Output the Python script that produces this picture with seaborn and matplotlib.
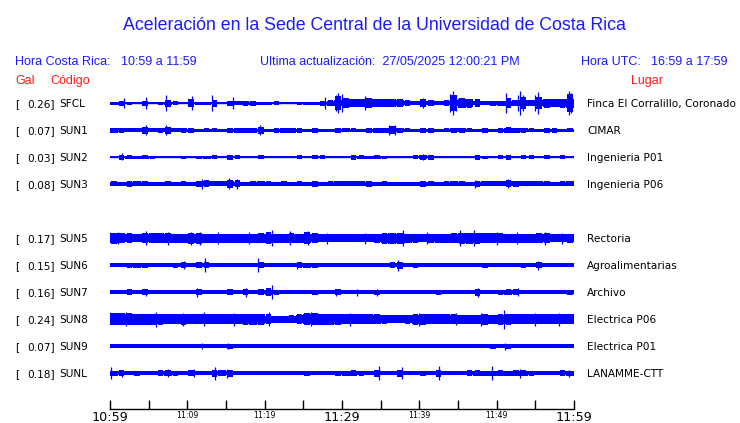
import numpy as np
import matplotlib
matplotlib.use("Agg")
import matplotlib.pyplot as plt
import seaborn as sns

# stations (SUN4 has no data in this window, its row stays empty)
codes = ["SFCL", "SUN1", "SUN2", "SUN3", "SUN4", "SUN5", "SUN6", "SUN7", "SUN8", "SUN9", "SUNL"]
peak_gal = [0.26, 0.07, 0.03, 0.08, None, 0.17, 0.15, 0.16, 0.24, 0.07, 0.18]
places = ["Finca El Corralillo, Coronado", "CIMAR", "Ingenieria P01", "Ingenieria P06", "",
          "Rectoria", "Agroalimentarias", "Archivo", "Electrica P06", "Electrica P01", "LANAMME-CTT"]

# half-amplitude envelope of each trace, one value per minute (10:59 -> 11:59)
env_sfcl = [1.5, 2.5, 1.5, 1.2, 2.5, 1, 1.5, 3.5, 2, 1,
            4, 1.5, 1.5, 3.5, 1, 2.5, 2, 2.5, 2.5, 1.5,
            1.5, 2, 1, 0.6, 1.5, 1.5, 1.5, 2.5, 3, 7,
            5, 4, 4, 5, 4, 4, 4, 4, 3, 2,
            4, 3, 2, 3, 8, 5, 4.5, 4, 2, 2.5,
            2.5, 5, 3, 6, 3, 6, 4.5, 4, 4.5, 9]
env_sun1 = [2.5, 2.5, 2, 2, 3.5, 2, 2.5, 3.5, 2, 2.5,
            2.5, 1.5, 2, 2, 1.5, 2.5, 2.5, 2.5, 2.5, 3.5,
            1.5, 2.5, 2.5, 2.5, 2.5, 1.5, 2.5, 1.5, 1.5, 2.5,
            2, 2, 1.5, 2.5, 2.5, 2.5, 4, 2.5, 2, 1.5,
            2.5, 2.5, 1.5, 2, 2.5, 2.5, 2, 1.5, 2.5, 1.5,
            2.5, 3, 2.5, 2.5, 2, 1.5, 2.5, 2.5, 1.5, 2]
env_sun2 = [0.6, 2.5, 2, 1.5, 2, 1.5, 1.2, 1.2, 0.6, 1.5,
            1.2, 1.5, 1.5, 2, 0.6, 2.5, 2, 1.2, 0.6, 2,
            0.6, 0.6, 0.6, 1.2, 2, 1.2, 2, 2, 0.6, 0.6,
            0.6, 2.5, 2, 1.5, 2, 1.5, 0.6, 1.2, 1.2, 2,
            2.5, 2.5, 1.2, 0.6, 1.2, 0.6, 0.6, 2.5, 1.5, 0.6,
            2, 2.5, 1.2, 2, 2, 0.6, 2, 0.6, 2, 1.2]
env_sun3 = [2.5, 2, 3, 2.5, 2.5, 2, 2, 2.5, 2, 2.5,
            2, 3, 3.5, 2.5, 2.5, 4, 3.5, 2, 2.5, 2.5,
            2.5, 2, 2.5, 2, 2.5, 2, 3, 2, 2.5, 2.5,
            2.5, 2.5, 2.5, 3, 2, 2.5, 2, 2, 2, 2,
            3, 2.5, 2, 2.5, 2.5, 2.5, 2, 3, 2.5, 2.5,
            2.5, 3.5, 3, 2.5, 2.5, 2.5, 2.5, 2, 2.5, 2.5]
env_sun5 = [5.5, 5, 5, 4, 5, 5, 5, 5, 4.5, 4.5,
            5.5, 5.5, 4.5, 4.5, 4.5, 4.5, 4.5, 4.5, 4.5, 5,
            6, 4.5, 4.5, 5, 4.5, 6, 5, 4, 4, 4,
            4, 4, 4, 4, 4.5, 5.5, 5.5, 5.5, 4.5, 4.5,
            4, 4.5, 4.5, 4.5, 5, 5.5, 5.5, 5.5, 5, 5,
            5, 4.5, 4.5, 4.5, 4.5, 5, 5, 4, 4, 4.5]
env_sun6 = [1.7, 1.7, 2.5, 2.5, 2.5, 1.7, 1.7, 1.7, 2.5, 3,
            2, 3, 3, 1.7, 1.7, 1.7, 1.7, 2.3, 1.7, 3,
            2.3, 1.7, 1.7, 1.7, 2.8, 2.5, 2.5, 1.7, 2.3, 1.7,
            1.7, 1.7, 1.7, 1.7, 2.3, 2, 3, 3.5, 1.7, 2.5,
            2, 1.7, 2, 1.7, 2.3, 1.7, 2, 1.7, 2.5, 2.3,
            2, 1.7, 2.3, 2.5, 1.7, 3, 1.7, 2, 1.7, 1.7]
env_sun7 = [1.7, 2, 2.8, 2, 2.8, 1.7, 1.7, 1.7, 2.3, 2,
            2.2, 3, 2.3, 1.7, 2, 2.8, 1.7, 3, 2, 2.8,
            4, 2.5, 2, 1.7, 1.7, 2.3, 2.5, 2, 1.7, 2.8,
            1.7, 2.3, 1.7, 2, 2.5, 1.7, 2.2, 2, 2.3, 2.3,
            2.2, 1.7, 2.5, 2, 1.7, 1.7, 2.3, 3.5, 1.7, 1.7,
            2.5, 2.8, 3, 1.7, 2, 2, 2, 1.7, 2, 2.5]
env_sun8 = [6, 6, 6, 5.5, 5.5, 5.5, 5.5, 5, 5, 5.5,
            5, 5, 5, 5, 5, 5, 5, 5.5, 5.5, 5.5,
            5, 3.5, 3.5, 4, 5, 6, 6, 5.5, 5.5, 5.5,
            5, 5, 5, 5, 5, 4.5, 4, 4, 4.5, 5.5,
            5.5, 5, 5, 5, 5, 4.5, 4.5, 4.5, 5.5, 4.5,
            5.5, 5.5, 5, 5, 5, 5, 5, 5, 5, 5]
env_sun9 = [2, 2, 2, 2, 2, 2, 2.3, 2.3, 2.3, 2,
            2, 2.3, 2.3, 2, 2, 2.5, 2, 2, 2, 2.3,
            2.3, 2.3, 2.3, 2.3, 2, 2, 2, 2.3, 2.3, 2,
            2, 2, 2, 2, 2, 2, 2.3, 2, 2, 2.3,
            2, 2, 2, 2.3, 2, 2.3, 2, 2, 2, 2.5,
            2, 2.5, 2, 2, 2, 2.3, 2, 2, 2, 2]
env_sunl = [2.5, 3, 2.3, 2.5, 2.3, 2.3, 2.8, 3.3, 2.5, 2,
            2.8, 2.3, 2, 3.5, 3.2, 3.5, 2.3, 2, 2.3, 2.3,
            2.3, 2, 2, 2, 2.3, 2.5, 2, 2.3, 2, 2.5,
            2.5, 3.3, 2.5, 2.3, 3.5, 2.3, 2.2, 3.5, 2, 2,
            2.5, 2, 3.5, 2, 2.3, 2, 2.8, 3, 2.5, 2.5,
            3, 2.5, 3.2, 2.8, 2.5, 2, 2.3, 2.3, 2.8, 2.5]

# isolated spikes: (minute, half-amplitude)
peaks_sfcl = [(1.85, 5), (4.65, 6), (7.25, 8), (10.6, 7), (13.2, 8), (15.95, 6), (27.8, 6),
              (29.2, 8), (29.5, 10), (30.0, 9), (33.0, 7), (40.5, 5), (44.0, 9), (44.4, 12),
              (44.8, 8), (51.2, 10), (52.7, 8), (53.0, 12), (53.4, 8), (55.0, 8), (55.3, 11),
              (59.3, 12), (59.6, 10)]
peaks_sun1 = [(4.6, 5), (7.3, 5), (19.4, 5), (36.1, 5), (36.9, 5)]
peaks_sun2 = [(1.5, 3.5), (40.5, 3)]
peaks_sun3 = [(11.9, 5), (15.4, 5.5), (16.4, 5), (47.2, 4), (51.5, 4.5)]
peaks_sun5 = [(1.0, 6), (4.7, 7), (7.5, 6.5), (10.5, 6.5), (11.6, 6.5), (14.0, 6), (18.0, 6),
              (20.9, 8), (23.3, 7), (25.6, 7), (28.0, 5.5), (33.0, 5.5), (37.9, 8), (41.0, 6),
              (45.2, 8), (47.1, 8), (50.0, 6.5), (52.6, 6), (56.3, 6.5), (58.5, 5.5)]
peaks_sun6 = [(9.6, 4), (12.3, 7.3), (19.2, 7), (24.2, 3.5), (37.2, 5.5), (55.3, 4.5)]
peaks_sun7 = [(4.7, 3.5), (11.2, 4.5), (17.6, 4.5), (20.9, 7), (29.2, 3.5), (32.0, 3.5),
              (34.5, 3.5), (47.6, 4.5), (52.8, 4)]
peaks_sun8 = [(2.1, 7), (6.0, 7.5), (9.5, 6.5), (12.1, 7), (16.0, 6.5), (20.6, 7), (26.0, 7),
              (31.0, 6.5), (40.0, 6.5), (44.8, 6), (48.0, 6.5), (51.0, 9.5), (55.0, 6.5), (58.0, 6.5)]
peaks_sun9 = [(11.9, 3), (15.3, 3), (51.1, 3.5)]
peaks_sunl = [(0.1, 6), (1.5, 3.5), (7.5, 3.8), (10.8, 4), (13.6, 6.5), (15.1, 4.5), (34.8, 7),
              (37.7, 6), (42.5, 7), (49.4, 7), (53.0, 4.5), (59.3, 3.5)]

traces = {
    "SFCL": (env_sfcl, peaks_sfcl), "SUN1": (env_sun1, peaks_sun1), "SUN2": (env_sun2, peaks_sun2),
    "SUN3": (env_sun3, peaks_sun3), "SUN5": (env_sun5, peaks_sun5), "SUN6": (env_sun6, peaks_sun6),
    "SUN7": (env_sun7, peaks_sun7), "SUN8": (env_sun8, peaks_sun8), "SUN9": (env_sun9, peaks_sun9),
    "SUNL": (env_sunl, peaks_sunl),
}

start_h, start_m = 10, 59
span_min = 60

sns.set_theme(style="white")
plt.rcParams['font.family'] = ['DejaVu Sans']

W, H = 740, 423
fig = plt.figure(figsize=(W / 100, H / 100), dpi=100)
fig.patch.set_facecolor("white")

blue = "#0000ff"
hdr_blue = "#1a1aff"
red = "#ff1a1a"


def put(x, y, s, **kw):
    fig.text(x / W, 1 - y / H, s, va="baseline", **kw)


# trace area, y in pixel rows of the figure
ax = fig.add_axes([110 / W, 14 / H, 464 / W, 409 / H])
ax.set_xlim(0, span_min)
ax.set_ylim(409, 0)
ax.patch.set_alpha(0)

row0, row_gap = 103, 27
for i, code in enumerate(codes):
    y0 = row0 + row_gap * i
    if code not in traces:
        continue
    env, peaks = traces[code]
    e = np.array(env)
    # continuous core = smallest amplitude among neighbouring minutes
    core = np.minimum(e, np.minimum(np.r_[e[0], e[:-1]], np.r_[e[1:], e[-1]]))
    t = np.arange(len(e) + 1)
    c = np.r_[core, core[-1]]
    ax.fill_between(t, y0 - c, y0 + c, step="post", color=blue, lw=0)
    # bursts of each minute
    ax.bar(np.arange(len(e)) + 0.5, 2 * e, bottom=y0 - e, width=0.7, color=blue, lw=0)
    sns.lineplot(x=t, y=np.full(len(t), y0), ax=ax, color=blue, lw=1.0)
    pt = np.array([p[0] for p in peaks])
    pa = np.array([p[1] for p in peaks])
    ax.vlines(pt, y0 - pa, y0 + pa, color=blue, lw=0.9)

    put(15, y0 + 4, "[", fontsize=7.6, color="black")
    put(55, y0 + 4, f"{peak_gal[i]:.2f}]", fontsize=7.6, color="black", ha="right")
    put(59.3, y0 + 4, code, fontsize=7.6, color="black")
    put(587, y0 + 4, places[i], fontsize=7.6, color="black")

# time axis
ticks = list(range(0, span_min + 1, 5))
labels = []
for m in ticks:
    tot = start_h * 60 + start_m + m
    labels.append(f"{tot // 60}:{tot % 60:02d}" if m % 10 == 0 else "")
ax.set_xticks(ticks)
ax.set_xticklabels(labels)
ax.set_yticks([])
for s in ["top", "left", "right"]:
    ax.spines[s].set_visible(False)
ax.spines["bottom"].set_color("black")
ax.spines["bottom"].set_linewidth(1)
ax.tick_params(axis="x", direction="in", length=6.5, width=1, color="black", pad=1.5, bottom=True)
for m, lab in zip(ticks, ax.get_xticklabels()):
    lab.set_fontsize(9.2 if m % 30 == 0 else 5.6)
    lab.set_color("black")

# header
hfont = dict(family=["Liberation Sans", "DejaVu Sans"])
put(374.9, 30, "Aceleración en la Sede Central de la Universidad de Costa Rica",
    fontsize=12.8, color=hdr_blue, ha="center", **hfont)
put(15, 65, "Hora Costa Rica:", fontsize=9, color=hdr_blue, **hfont)
put(120.7, 65, "10:59 a 11:59", fontsize=9, color=hdr_blue, **hfont)
put(260, 65, "Ultima actualización:  27/05/2025 12:00:21 PM", fontsize=9, color=hdr_blue, **hfont)
put(580.7, 65, "Hora UTC:", fontsize=9, color=hdr_blue, **hfont)
put(651, 65, "16:59 a 17:59", fontsize=9, color=hdr_blue, **hfont)
put(15, 84, "Gal", fontsize=9, color=red, **hfont)
put(50.7, 84, "Código", fontsize=9, color=red, **hfont)
put(630.7, 84, "Lugar", fontsize=9, color=red, **hfont)

fig.savefig("out.png", dpi=100, facecolor="white")
